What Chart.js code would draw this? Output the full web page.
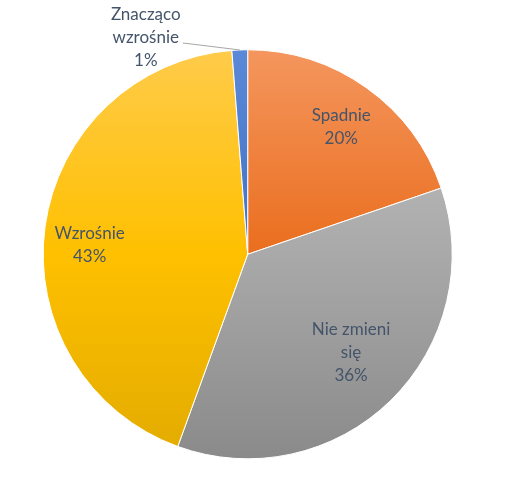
<!DOCTYPE html>
<html>
<head>
<meta charset="utf-8">
<script src="https://cdn.jsdelivr.net/npm/chart.js@4.4.1/dist/chart.umd.min.js"></script>
<style>
  html, body { margin: 0; background: #fff; }
  #wrap { width: 506px; height: 501px; }
</style>
</head>
<body>
<div id="wrap"><canvas id="chart"></canvas></div>
<script>
const categories = ['Spadnie', 'Nie zmieni się', 'Wzrośnie', 'Znacząco wzrośnie'];
const counts = [16, 29, 35, 1];

// top / middle / bottom shade for each slice (vertical gradient like the original)
const shades = [
  ['#F4965E', '#EA6E1E', '#D65F0E'],
  ['#C4C4C4', '#A9A9A9', '#8A8A8A'],
  ['#FFCB4A', '#FFC000', '#E2AB00'],
  ['#5B89D8', '#4472C4', '#3A64B0']
];

function sliceFill(context) {
  const chart = context.chart;
  const area = chart.chartArea;
  if (!area) return shades[context.dataIndex][1];
  const g = chart.ctx.createLinearGradient(0, area.top, 0, area.bottom);
  const s = shades[context.dataIndex];
  g.addColorStop(0, s[0]);
  g.addColorStop(0.5, s[1]);
  g.addColorStop(1, s[2]);
  return g;
}

function wrapText(ctx, text, maxWidth) {
  const words = text.split(' ');
  const lines = [];
  let cur = '';
  words.forEach(w => {
    const test = cur ? cur + ' ' + w : w;
    if (cur && ctx.measureText(test).width > maxWidth) {
      lines.push(cur);
      cur = w;
    } else {
      cur = test;
    }
  });
  if (cur) lines.push(cur);
  return lines;
}

const pieLabels = {
  id: 'pieLabels',
  afterDatasetsDraw(chart, args, opts) {
    const ctx = chart.ctx;
    const meta = chart.getDatasetMeta(0);
    const total = counts.reduce((a, b) => a + b, 0);
    ctx.save();
    ctx.font = opts.font;
    ctx.textAlign = 'center';
    ctx.textBaseline = 'middle';
    meta.data.forEach((arc, i) => {
      const p = arc.getProps(['x', 'y', 'startAngle', 'endAngle', 'outerRadius'], true);
      const mid = (p.startAngle + p.endAngle) / 2;
      const share = counts[i] / total;
      const lines = wrapText(ctx, categories[i], opts.maxWidth);
      lines.push(Math.round(share * 100) + '%');
      let cx, cy;
      if (share < 0.05) {
        // small slice: label outside with a leader line
        const ex = p.x + Math.cos(mid) * p.outerRadius;
        const ey = p.y + Math.sin(mid) * p.outerRadius;
        const lx = ex - 57, ly = ey - 7;
        ctx.strokeStyle = '#A6A6A6';
        ctx.lineWidth = 1;
        ctx.beginPath();
        ctx.moveTo(lx, ly);
        ctx.lineTo(ex, ey);
        ctx.stroke();
        cx = lx - 37;
        cy = ly - 5;
      } else {
        const r = p.outerRadius * opts.radius[i];
        cx = p.x + Math.cos(mid) * r + opts.nudge[i][0];
        cy = p.y + Math.sin(mid) * r + opts.nudge[i][1];
      }
      ctx.fillStyle = opts.color;
      lines.forEach((t, k) => {
        ctx.fillText(t, cx, cy + (k - (lines.length - 1) / 2) * opts.lineHeight);
      });
    });
    ctx.restore();
  }
};

new Chart(document.getElementById('chart'), {
  type: 'pie',
  data: {
    labels: categories,
    datasets: [{
      data: counts,
      backgroundColor: sliceFill,
      borderColor: '#ffffff',
      borderWidth: 1
    }]
  },
  options: {
    responsive: true,
    maintainAspectRatio: false,
    animation: false,
    layout: { padding: { left: 42.7, right: 53.3, top: 49.3, bottom: 41.7 } },
    plugins: {
      legend: { display: false },
      tooltip: { enabled: false },
      pieLabels: {
        font: '17px Lato',
        color: '#44546A',
        lineHeight: 23,
        maxWidth: 90,
        radius: [0.77, 0.694, 0.78, 1],
        nudge: [[2, 1], [4, -3], [0, 12], [0, 0]]
      }
    }
  },
  plugins: [pieLabels]
});
</script>
</body>
</html>
